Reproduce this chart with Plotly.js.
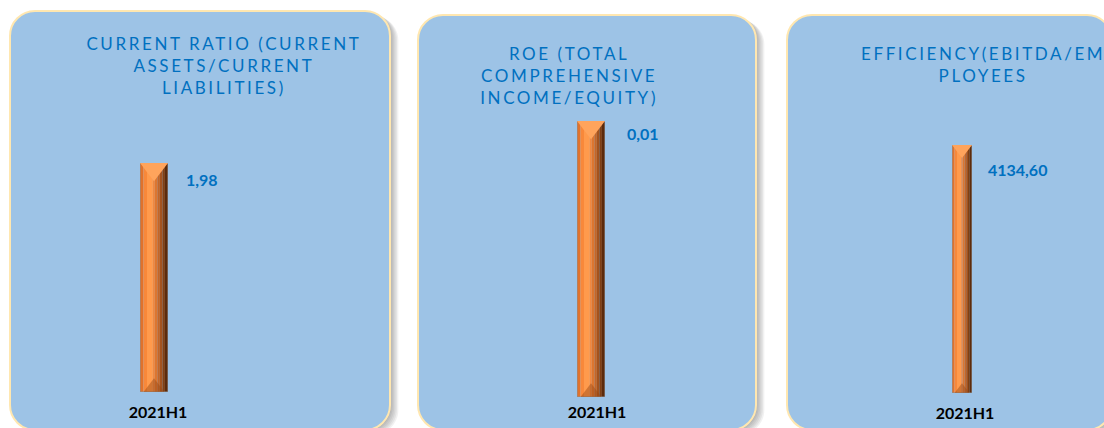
<!DOCTYPE html>
<html><head><meta charset="utf-8">
<script src="https://cdn.plot.ly/plotly-3.0.1.min.js"></script>
<style>html,body{margin:0;padding:0;background:#fff;}#chart{width:1104px;height:428px;}</style>
</head><body><div id="chart"></div>
<script>
// ---- data ----
const categories = ['2021H1'];
const currentRatio = [1.98];
const roe = [0.01];
const efficiency = [4134.60];
const chartTitles = [
  'CURRENT RATIO (CURRENT<br>ASSETS/CURRENT<br>LIABILITIES)',
  'ROE (TOTAL<br>COMPREHENSIVE<br>INCOME/EQUITY)',
  'EFFICIENCY(EBITDA/EM<br>PLOYEES'
];
const seriesList = [currentRatio, roe, efficiency];

// ---- layout geometry (pixels) ----
const W = 1104, H = 428;
const fx = p => p / W, fy = p => 1 - p / H;
const geo = [
  {box:[10,11,390,430], bar:[140,168,163,392], tx:224, ty:66, ldx:16, ldy:16, stand:9, shift:4},
  {box:[418,15,756,430], bar:[577,605,121,397], tx:569, ty:75, ldx:20, ldy:13, stand:4, shift:6},
  {box:[787,15,1112,430], bar:[952,972,145,393], tx:983, ty:65, ldx:14, ldy:25, stand:9, shift:3}
];
const stripes = [
  [0.00,0.12,'#E0722C'],[0.12,0.25,'#F8883A'],[0.25,0.46,'#FF9A4C'],
  [0.46,0.53,'#F08840'],[0.53,0.62,'#DC7630'],[0.62,0.71,'#C46628'],
  [0.71,0.80,'#A4531E'],[0.80,0.89,'#804014'],[0.89,1.00,'#5C2B0C']
];
const fmt = v => v.toFixed(2).replace('.', ',');

function rr(x0,y0,x1,y1,r){
  const k = 0.5523*r;
  const P = (x,y) => fx(x).toFixed(5)+','+fy(y).toFixed(5);
  return 'M'+P(x0+r,y0)+' L'+P(x1-r,y0)+
    ' C'+P(x1-r+k,y0)+' '+P(x1,y0+r-k)+' '+P(x1,y0+r)+
    ' L'+P(x1,y1-r)+
    ' C'+P(x1,y1-r+k)+' '+P(x1-r+k,y1)+' '+P(x1-r,y1)+
    ' L'+P(x0+r,y1)+
    ' C'+P(x0+r-k,y1)+' '+P(x0,y1-r+k)+' '+P(x0,y1-r)+
    ' L'+P(x0,y0+r)+
    ' C'+P(x0,y0+r-k)+' '+P(x0+r-k,y0)+' '+P(x0+r,y0)+' Z';
}

const traces = [];
const shapes = [];
const titleAnns = [];
const labelAnns = [];
const layout = {
  width: W, height: H, margin:{l:0,r:0,t:0,b:0,pad:0},
  paper_bgcolor:'#ffffff', plot_bgcolor:'rgba(0,0,0,0)',
  showlegend:false, barmode:'overlay', hovermode:false,
  font:{family:'Lato, "Open Sans", sans-serif'}
};

geo.forEach((g, i) => {
  const n = i + 1, sfx = n > 1 ? String(n) : '';
  const xa = 'x' + sfx, ya = 'y' + sfx;
  const vals = seriesList[i];
  const bw = g.bar[1] - g.bar[0];

  // panel shadow + panel
  for (let k = 1; k <= 6; k++) {
    const [a,b,c,d] = g.box;
    shapes.push({type:'path', xref:'paper', yref:'paper', layer:'below',
      path: rr(a+1.4*k, b+0.8*k, c+1.4*k, d+0.8*k, 25),
      fillcolor:'rgba(0,0,0,0.055)', line:{width:0}});
  }
  shapes.push({type:'path', xref:'paper', yref:'paper', layer:'below',
    path: rr(...g.box, 25), fillcolor:'#9DC3E6', line:{color:'#FFE7B0', width:2}});

  // bar layers
  stripes.forEach(s => {
    traces.push({type:'bar', x:categories, y:vals, xaxis:xa, yaxis:ya,
      offset:-0.5 + s[0], width:s[1]-s[0], marker:{color:s[2], line:{width:0}},
      cliponaxis:false, hoverinfo:'skip'});
  });
  // top bevel
  const ts = bw / 1.155;
  traces.push({type:'scatter', mode:'markers', x:categories, y:vals, xaxis:xa, yaxis:ya,
    marker:{symbol:'triangle-down', size:ts, color:'#FFA45C', standoff:ts/4, line:{width:0}},
    cliponaxis:false, hoverinfo:'skip'});
  // bottom bevel
  traces.push({type:'scatter', mode:'markers', x:categories, y:vals.map(() => 0), xaxis:xa, yaxis:ya,
    marker:{symbol:'triangle-down', angle:180, size:ts*0.75, color:'rgba(150,70,20,0.45)', standoff:ts*0.75/4, line:{width:0}},
    cliponaxis:false, hoverinfo:'skip'});
  // outline
  traces.push({type:'bar', x:categories, y:vals, xaxis:xa, yaxis:ya,
    offset:-0.5, width:1, marker:{color:'rgba(0,0,0,0)', line:{color:'#8C8C8C', width:1}},
    cliponaxis:false, hoverinfo:'skip'});

  layout['xaxis' + sfx] = {domain:[fx(g.bar[0]), fx(g.bar[1])], anchor:ya, type:'category',
    range:[-0.5,0.5], fixedrange:true, showgrid:false, zeroline:false, showline:false, ticks:'',
    ticklabelstandoff:g.stand, ticklabelshift:g.shift,
    tickfont:{family:'Lato, sans-serif', size:16, color:'#000000', weight:700}};
  layout['yaxis' + sfx] = {domain:[fy(g.bar[3]), fy(g.bar[2])], anchor:xa,
    range:[0, Math.max(...vals)], fixedrange:true, showgrid:false, zeroline:false,
    showline:false, showticklabels:false, ticks:''};

  // title
  titleAnns.push({xref:'paper', yref:'paper', x:fx(g.tx), y:fy(g.ty), xanchor:'center', yanchor:'middle',
    text:chartTitles[i], showarrow:false, align:'center',
    font:{family:'Lato, sans-serif', size:17, color:'#0070C0'}});
  // value labels
  vals.forEach((v, j) => {
    labelAnns.push({xref:xa, yref:ya, x:categories[j], y:v, xanchor:'left', yanchor:'middle',
      xshift:bw/2 + g.ldx, yshift:-g.ldy, text:fmt(v), showarrow:false,
      font:{family:'Lato, sans-serif', size:16, color:'#0070C0', weight:700}});
  });
});

layout.shapes = shapes;
layout.annotations = titleAnns.concat(labelAnns);

function spaceTitles(){
  for (let i = 0; i < titleAnns.length; i++) {
    const t = document.querySelector('g.annotation[data-index="' + i + '"] text');
    if (t) t.style.letterSpacing = '2.6px';
  }
}
Plotly.newPlot('chart', traces, layout, {staticPlot:true, displayModeBar:false}).then(gd => {
  spaceTitles();
  gd.on('plotly_afterplot', spaceTitles);
});
</script>
</body></html>
